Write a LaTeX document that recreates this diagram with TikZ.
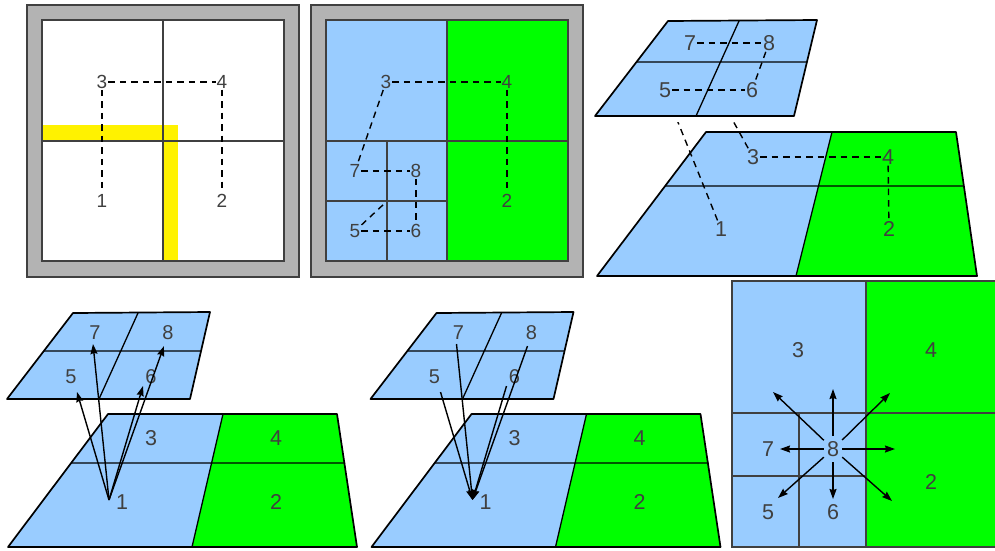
\documentclass[tikz,border=0pt]{standalone}
\usepackage{fontspec}
\setmainfont{Liberation Sans}
\usetikzlibrary{arrows.meta,calc}
\definecolor{lblue}{HTML}{99CCFF}
\definecolor{lgreen}{HTML}{00FF00}
\definecolor{framegray}{HTML}{B3B3B3}
\definecolor{txtc}{HTML}{404040}
\definecolor{gridc}{HTML}{404040}
\begin{document}
\begin{tikzpicture}[x=1pt,y=-1pt,
  lab/.style={text=txtc, font=\fontsize{19}{19}\selectfont, inner sep=1pt},
  toplab/.style={text=txtc, font=\fontsize{20}{20}\selectfont, inner sep=1pt},
  bigl/.style={text=txtc, font=\fontsize{21.5}{21.5}\selectfont, inner sep=1pt},
  gridl/.style={draw=gridc, line width=1.3pt},
  edgel/.style={draw=black, line width=1.7pt, line join=round},
  innerl/.style={draw=black, line width=1.3pt},
  dsh/.style={draw=black, line width=1.4pt, dash pattern=on 6.5pt off 5pt},
  arr/.style={draw=black, line width=1.4pt, -{Stealth[length=10pt,width=7pt,inset=1pt]}},
  halo/.style={draw=white, line width=12pt, line join=round}
]
\useasboundingbox (0,0) rectangle (995,550);
\clip (0,0) rectangle (995,550);
\fill[white] (0,0) rectangle (995,550);

% ---------- Panel 1 ----------
\filldraw[fill=framegray, draw=gridc, line width=1.3pt] (27,5) rectangle (299,277);
\fill[white] (42,20) rectangle (284,261);
\fill[yellow] (42,125) rectangle (178,141);
\fill[yellow] (163,141) rectangle (178,261);
\draw[gridl] (163,20) -- (163,261) (42,141) -- (284,141);
\draw[gridl] (42,20) rectangle (284,261);
\node[lab] (a3) at (102,82) {3};
\node[lab] (a4) at (222,82) {4};
\node[lab] (a1) at (102,201) {1};
\node[lab] (a2) at (222,201) {2};
\draw[dsh] (a3) -- (a4);
\draw[dsh] (a3) -- (a1);
\draw[dsh] (a4) -- (a2);

% ---------- Panel 2 ----------
\filldraw[fill=framegray, draw=gridc, line width=1.3pt] (311,5) rectangle (583,277);
\fill[lblue] (326,20) rectangle (447,261);
\fill[lgreen] (447,20) rectangle (568,261);
\draw[gridl] (447,20) -- (447,261) (326,141) -- (568,141)
  (387,141) -- (387,261) (326,201) -- (447,201);
\draw[gridl] (326,20) rectangle (568,261);
\node[lab] (b3) at (386,82) {3};
\node[lab] (b4) at (507,82) {4};
\node[lab] (b2) at (507,201) {2};
\node[lab] (b7) at (355,171) {7};
\node[lab] (b8) at (416,171) {8};
\node[lab] (b5) at (355,231) {5};
\node[lab] (b6) at (416,231) {6};
\coordinate (b1) at (385,203);
\draw[dsh] (b3) -- (b4);
\draw[dsh] (b4) -- (b2);
\draw[dsh] (b3) -- (b7);
\draw[dsh] (b7) -- (b8);
\draw[dsh] (b8) -- (b6);
\draw[dsh] (b5) -- (b6);
\draw[dsh] (b5) -- (b1);

% ---------- Panel 3 ----------
\fill[lblue] (706,132) -- (832,132) -- (796,276) -- (597,276) -- cycle;
\fill[lgreen] (832,132) -- (956,132) -- (977,276) -- (796,276) -- cycle;
\draw[innerl] (832,132) -- (796,276) (665,186) -- (964,186);
\draw[edgel] (706,132) -- (956,132) -- (977,276) -- (597,276) -- cycle;
\node[bigl] (c3) at (753,157) {3};
\node[bigl] (c4) at (888,157) {4};
\node[bigl] (c1) at (721,229) {1};
\node[bigl] (c2) at (889,229) {2};
\node[bigl] (c7) at (690,43) {7};
\node[bigl] (c8) at (769,43) {8};
\node[bigl] (c5) at (665,90) {5};
\node[bigl] (c6) at (752,90) {6};
\draw[dsh] (c3) -- (c4);
\draw[dsh] (c4) -- (c2);
\draw[dsh] (c1) -- (c5);
\draw[dsh] (c3) -- (c7);
\draw[halo] (668,21) -- (817,20) -- (794,116) -- (595,116) -- cycle;
\fill[lblue] (668,21) -- (817,20) -- (794,116) -- (595,116) -- cycle;
\draw[innerl] (739,21) -- (696,116) (636,62) -- (807,62);
\draw[edgel] (668,21) -- (817,20) -- (794,116) -- (595,116) -- cycle;
\node[bigl] at (c7) {7};
\node[bigl] at (c8) {8};
\node[bigl] at (c5) {5};
\node[bigl] at (c6) {6};
\draw[dsh] (c7) -- (c8);
\draw[dsh] (c5) -- (c6);
\draw[dsh] (c8) -- (c6);

% ---------- Panel 4 and 5 ----------
\foreach \sx/\pn in {0/d, 363.5/e} {
\begin{scope}[xshift=\sx pt]
\fill[lblue] (108,414) -- (223,414) -- (192,547) -- (8,547) -- cycle;
\fill[lgreen] (223,414) -- (337,414) -- (357,547) -- (192,547) -- cycle;
\draw[innerl] (223,414) -- (192,547) (71,463) -- (345,463);
\draw[edgel] (108,414) -- (337,414) -- (357,547) -- (8,547) -- cycle;
\fill[lblue] (73,313) -- (210,312) -- (190,399) -- (7,399) -- cycle;
\draw[innerl] (138,313) -- (99,399) (44,351) -- (201,351);
\draw[edgel] (73,313) -- (210,312) -- (190,399) -- (7,399) -- cycle;
\node[toplab] (\pn7) at (95,333) {7};
\node[toplab] (\pn8) at (168,333) {8};
\node[toplab] (\pn5) at (71,377) {5};
\node[toplab] (\pn6) at (151,377) {6};
\node[bigl] (\pn3) at (151,438) {3};
\node[bigl] (\pn4) at (276,438) {4};
\node[bigl] (\pn1) at (122,502) {1};
\node[bigl] (\pn2) at (276,502) {2};
\coordinate (\pn s) at (109,500);
\coordinate (\pn t5) at (77,392);
\coordinate (\pn t7) at (93,344);
\coordinate (\pn t6) at (143,386);
\coordinate (\pn t8) at (164,346);
\end{scope}
}
\draw[arr] (ds) -- (dt5);
\draw[arr] (ds) -- (dt7);
\draw[arr] (ds) -- (dt6);
\draw[arr] (ds) -- (dt8);
\draw[arr] (et5) -- (es);
\draw[arr] (et7) -- (es);
\draw[arr] (et6) -- (es);
\draw[arr] (et8) -- (es);

% ---------- Panel 6 ----------
\fill[lblue] (732,281) rectangle (866,547);
\fill[lgreen] (866,281) rectangle (1000,547);
\draw[gridl] (866,281) -- (866,547) (732,413) -- (1000,413)
  (799,413) -- (799,547) (732,476) -- (866,476);
\draw[gridl] (1000,281) -- (732,281) -- (732,547) -- (1000,547);
\node[bigl] (f3) at (798,350) {3};
\node[bigl] (f4) at (931,350) {4};
\node[bigl] (f7) at (768,449) {7};
\node[bigl, minimum width=18pt, minimum height=26pt, inner sep=0pt] (f8) at (833,449) {8};
\node[bigl] (f5) at (768,512) {5};
\node[bigl] (f6) at (833,512) {6};
\node[bigl] (f2) at (931,482) {2};
\coordinate (fu) at (833,389);
\coordinate (ful) at (773,392);
\coordinate (fur) at (890,393);
\coordinate (fl) at (780,449);
\coordinate (fr) at (895,449);
\coordinate (fdl) at (778,498);
\coordinate (fd) at (833,499);
\coordinate (fdr) at (892,501);
\foreach \t in {fu,ful,fur,fl,fr,fdl,fd,fdr} {\draw[arr] (f8) -- (\t);}
\end{tikzpicture}
\end{document}
